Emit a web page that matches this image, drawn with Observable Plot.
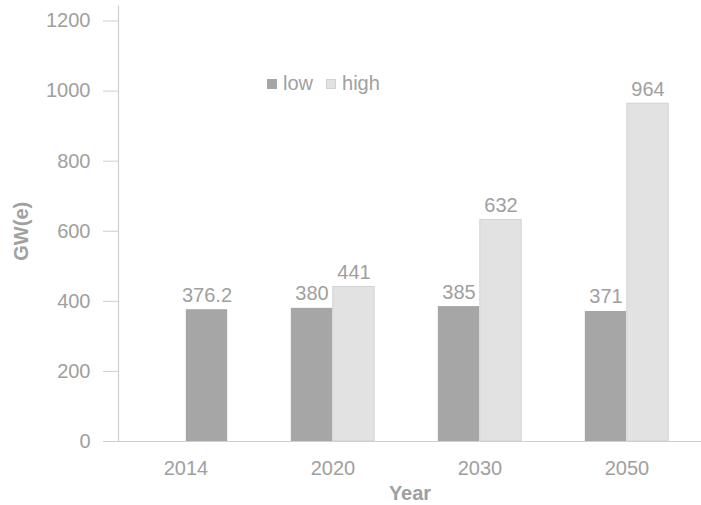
<!DOCTYPE html>
<html><head><meta charset="utf-8">
<script src="https://cdn.jsdelivr.net/npm/d3@7"></script>
<script src="https://cdn.jsdelivr.net/npm/@observablehq/plot@0.6"></script>
<style>
body{margin:0;background:#fff;}
#wrap{position:relative;width:701px;height:505px;font-family:"Liberation Sans",Arial,sans-serif;}
.legend{position:absolute;left:267px;top:72px;font-size:20px;color:#a0a0a0;display:flex;align-items:center;white-space:nowrap;}
.sw{display:inline-block;width:10px;height:10px;margin-right:6px;}
</style></head><body><div id="wrap"></div>
<script>
const years = ["2014", "2020", "2030", "2050"];
const lowValues = [376.2, 380, 385, 371];
const highValues = [null, 441, 632, 964];
const lowLabels = ["376.2", "380", "385", "371"];
const highLabels = [null, "441", "632", "964"];
const lowSlots = ["right", "left", "left", "left"];
const yTicks = [0, 200, 400, 600, 800, 1000, 1200];
const seriesNames = ["low", "high"];
const seriesColors = ["#a6a6a6", "#e2e2e2"];

const rows = [];
years.forEach((yr, i) => {
  rows.push({year: yr, series: "low", value: lowValues[i], label: lowLabels[i], slot: lowSlots[i]});
  if (highValues[i] != null) rows.push({year: yr, series: "high", value: highValues[i], label: highLabels[i], slot: "right"});
});
const leftRows = rows.filter(d => d.slot === "left");
const rightRows = rows.filter(d => d.slot === "right");

const W = 701, H = 505;
const xRange = [111, 701.7];
const bw = (xRange[1] - xRange[0]) / years.length;
const barW = 42;
const grey = "#a0a0a0";
const colorScale = {domain: seriesNames, range: seriesColors};

const plot = Plot.plot({
  width: W, height: H,
  marginLeft: 118, marginRight: 0, marginTop: 20.5, marginBottom: 64,
  style: {fontFamily: '"Liberation Sans", Arial, sans-serif', fontSize: "20px", color: grey, background: "#fff"},
  x: {domain: years, range: xRange, padding: 0, axis: null},
  y: {domain: [0, 1200], axis: null},
  color: colorScale,
  marks: [
    Plot.barY(leftRows, {x: "year", y: "value", fill: "series", insetLeft: bw / 2 - barW, insetRight: bw / 2}),
    Plot.barY(rightRows, {x: "year", y: "value", fill: "series", stroke: d => d.series === "high" ? "#d2d2d2" : "none", insetLeft: bw / 2, insetRight: bw / 2 - barW}),
    Plot.text(leftRows, {x: "year", y: "value", text: "label", dx: -barW / 2, dy: -8, lineAnchor: "bottom", fill: grey, fontSize: 20}),
    Plot.text(rightRows, {x: "year", y: "value", text: "label", dx: barW / 2, dy: -8, lineAnchor: "bottom", fill: grey, fontSize: 20}),
    Plot.ruleY([0], {stroke: "#cfcfcf", strokeWidth: 1.2}),
    Plot.frame({anchor: "left", stroke: "#cfcfcf", strokeWidth: 1.2, insetTop: -15}),
    Plot.axisY({ticks: yTicks, tickFormat: d => String(d), tickSize: 15, tickPadding: 13, stroke: "#cfcfcf", fill: grey, fontSize: 20,
      label: "GW(e)", labelAnchor: "center", labelOffset: 105, labelArrow: "none"}),
    Plot.axisX({tickSize: 0, tickPadding: 19, fill: grey, fontSize: 20,
      label: "Year", labelAnchor: "center", labelOffset: 58, labelArrow: "none"})
  ]
});
document.getElementById("wrap").appendChild(plot);

plot.querySelectorAll("g[aria-label='y-axis label'] text, g[aria-label='x-axis label'] text").forEach(t => {
  t.setAttribute("font-weight", "bold");
});

const leg = document.createElement("div");
leg.className = "legend";
seriesNames.forEach((s, i) => {
  const sw = document.createElement("span");
  sw.className = "sw";
  sw.style.background = seriesColors[i];
  if (i === 1) sw.style.boxShadow = "inset 0 0 0 1px #d2d2d2";
  const t = document.createElement("span");
  t.textContent = s;
  t.style.marginRight = i === 0 ? "13px" : "0";
  leg.appendChild(sw); leg.appendChild(t);
});
document.getElementById("wrap").appendChild(leg);
</script></body></html>
